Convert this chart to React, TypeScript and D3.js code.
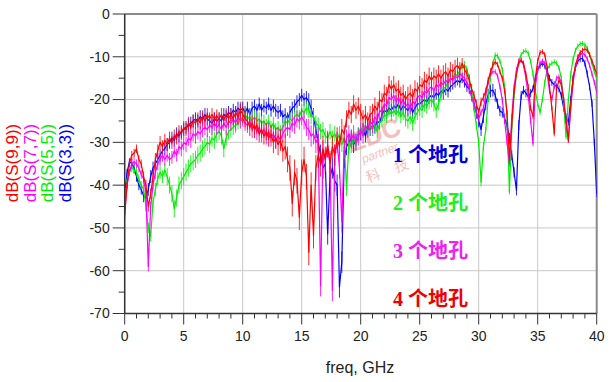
import React from "react";
import * as d3 from "d3";

// frequency sweep, 0..40 GHz in 0.2 GHz steps
const freq: number[] = d3.range(201).map((i) => +(i * 0.2).toFixed(1));

const s99: number[] = [
  -47, -40, -35, -33, -32.5,
  -31.5, -34, -35, -38, -40,
  -45, -42, -38, -34, -32,
  -30, -31, -29.5, -30.5, -29,
  -30, -28.5, -29, -27.5, -28,
  -26.5, -27, -25.5, -26.5, -25,
  -25.5, -24.5, -25.5, -24, -25,
  -23.5, -24.5, -23.5, -24.5, -23.8,
  -24.5, -23.5, -24.8, -23.5, -24.5,
  -23.5, -24.5, -23, -24, -22.5,
  -23.5, -24.5, -25, -26.5, -25.5,
  -27, -26, -28, -27, -28.5,
  -27.5, -29, -28, -30, -29,
  -30.5, -29.5, -32, -31, -34,
  -36, -44.3, -37, -39, -47.5,
  -37, -34, -38, -55.7, -40,
  -51.8, -36, -33, -35, -31.5,
  -34, -30.5, -35, -31, -33,
  -29, -31, -27, -28, -24.5,
  -22.5, -23.5, -21, -22.5, -21.5,
  -23, -24.5, -23.5, -25, -23.5,
  -23, -21.5, -22.5, -20, -20.5,
  -18.5, -19, -16.5, -17.5, -16.5,
  -18, -17.5, -19, -18.5, -20,
  -19, -18.5, -19.5, -17.5, -18,
  -16.5, -17, -15.5, -16, -14.5,
  -15.5, -14.5, -15, -14, -15,
  -14, -13.5, -14.5, -13, -13.5,
  -12.5, -12, -13, -11.5, -13,
  -14, -15.5, -17.5, -19, -21,
  -23, -20.5, -19.5, -18, -15.5,
  -13.5, -12, -11.2, -11.8, -13.5,
  -15, -18, -23, -33.7, -26,
  -18, -14, -11.5, -10.8, -11.5,
  -14, -17, -22, -24, -15,
  -11, -9, -8.8, -9.5, -12.5,
  -17, -22, -28, -17.5, -15.5,
  -16.5, -20, -25, -29.5, -21,
  -15, -12, -10, -9, -8.5,
  -8.2, -8.5, -9.5, -11, -12.5,
  -14,
];

const s77: number[] = [
  -46, -40, -37, -35, -34.5,
  -35, -36, -37.5, -38.5, -42,
  -59, -45, -40, -37, -35,
  -34, -33, -34, -33, -34,
  -33.5, -32, -33, -31, -31.5,
  -30, -30.5, -29, -29.5, -28,
  -28.5, -27.5, -28, -27, -26.5,
  -27, -26, -26.5, -25.5, -26.5,
  -26, -27, -25.5, -26.5, -25,
  -25.5, -24.5, -25.5, -24, -25,
  -24.5, -25.5, -26, -25, -27,
  -26, -27.5, -26.5, -28, -27,
  -28.5, -27.5, -29, -28, -29.5,
  -28.5, -29.5, -28, -27, -26.5,
  -27, -25.5, -26, -24.5, -25,
  -24, -25, -26.5, -27, -28.5,
  -28, -30, -29, -63.5, -32,
  -34, -31, -35, -64.6, -33,
  -30, -36, -48.6, -31, -29,
  -28, -29.5, -28, -30, -29,
  -27, -28.5, -26, -27, -25,
  -26, -24, -25, -22.5, -23,
  -21, -21.5, -19.5, -20, -19,
  -20.5, -19.5, -21, -20, -21.5,
  -21, -22, -20.5, -21, -19.5,
  -19, -19.5, -18, -18.5, -17.5,
  -17, -18, -16.5, -17, -16,
  -16.5, -15.5, -16, -15, -15.5,
  -14.5, -15, -14, -14.5, -15,
  -16, -17.5, -19.5, -21, -23,
  -24.5, -23, -22, -19, -16,
  -14, -13.5, -13.5, -14.5, -17,
  -20, -25, -30, -35, -24,
  -17, -13, -11, -10.8, -12,
  -15, -19, -25, -30.3, -17,
  -13, -11.5, -11, -11.5, -14,
  -18, -20, -17, -15, -14.7,
  -16, -20, -25, -29.5, -22,
  -16, -12.5, -10.5, -9.5, -9.2,
  -9.5, -10.5, -12, -14, -16,
  -18.2,
];

const s55: number[] = [
  -43, -39, -37, -36, -36.5,
  -37, -38.5, -40, -41, -45,
  -50, -52, -44, -41, -38.5,
  -37, -38, -36.5, -38, -40,
  -42, -45.5, -43, -40, -39,
  -38, -37, -36, -35, -34.5,
  -34, -33, -32.5, -31.5, -31,
  -30, -30.5, -29, -29.5, -28,
  -27.5, -28.5, -31.5, -29, -27.5,
  -27, -26.5, -26, -25.5, -25,
  -24, -23.5, -24.5, -24, -25,
  -24, -25, -24.5, -25.5, -25,
  -26, -25, -26.5, -25.5, -27,
  -26.5, -27.5, -26.5, -25, -25.5,
  -24.5, -25, -24, -23.5, -24,
  -22.5, -23, -22, -22.5, -24,
  -24, -25.5, -26, -27.5, -27,
  -28.5, -29, -27.5, -29, -28,
  -29.5, -28, -30.5, -29, -41,
  -30, -31, -29, -30.5, -28,
  -26.5, -27.5, -26, -27.5, -26,
  -27, -26, -27.5, -25.5, -25,
  -23.5, -24, -22.5, -23.5, -22.5,
  -23.5, -22.5, -24, -23, -24.5,
  -25, -24, -25.5, -24, -23,
  -22, -22.5, -21, -21.5, -20.5,
  -20, -21, -22.5, -21, -19,
  -17.5, -17, -16, -15.5, -15,
  -14, -14.5, -13, -12.5, -12,
  -13, -15, -18, -22, -26,
  -30, -39.3, -31, -27, -20,
  -15, -11.5, -9.6, -9.8, -11,
  -13, -17, -24, -41.6, -27,
  -19, -14, -11, -9.5, -8.8,
  -8.6, -9.2, -11, -14, -18,
  -21, -23, -20, -16, -13,
  -12, -11.5, -11.2, -11.5, -12.5,
  -15, -21, -28.7, -20, -14,
  -10.5, -8.5, -7.5, -7, -6.9,
  -7.2, -8, -9.5, -11.5, -13.5,
  -15,
];

const s33: number[] = [
  -42, -37, -34.5, -35, -36,
  -38, -40, -41, -42.5, -43,
  -41, -38, -36, -35, -34,
  -33, -32, -31.5, -30.5, -30,
  -29, -29.5, -28, -28.5, -27.5,
  -27, -26.5, -26, -25.5, -25,
  -24.5, -25, -24, -24.5, -23.5,
  -24.5, -25, -25.5, -24.5, -25,
  -24.5, -25, -23.5, -24, -23,
  -23.5, -22.5, -23, -22, -22.5,
  -22, -23, -22, -23.5, -22,
  -21.5, -22.5, -21, -22.5, -21.5,
  -22, -21, -22.5, -21.5, -22.5,
  -23, -22.5, -24, -23.5, -24.5,
  -23, -22, -21.5, -20.5, -20,
  -19, -20, -19.5, -20.5, -22,
  -24, -27, -30, -33, -36,
  -35, -51.4, -38, -36, -39,
  -40, -63.8, -58, -34, -31,
  -30, -29, -30.5, -29.5, -28,
  -28, -27, -28.5, -26.5, -27,
  -26, -26.5, -25, -25.5, -23.5,
  -22.5, -23, -22, -22.5, -21.5,
  -22, -21, -22.5, -21.5, -22,
  -22.5, -21.5, -23, -22, -21,
  -21, -20.5, -20, -20.5, -19.5,
  -19, -19.5, -18.5, -19, -18,
  -18.5, -17.5, -18, -17, -16.5,
  -16, -15.5, -16, -15, -16,
  -17, -17.5, -19, -21, -23,
  -25, -27, -24, -21, -19,
  -18, -17.8, -19, -21, -22.7,
  -23, -24.5, -26, -29, -33,
  -37, -41.2, -26, -19, -17.8,
  -18.5, -19.3, -18.5, -17.5, -15,
  -13, -12, -11.5, -12, -13.5,
  -15, -16, -16.5, -17, -17.5,
  -19, -22, -24, -25.3, -20,
  -15, -12.5, -11, -10.5, -10.4,
  -11.5, -14, -17, -20.9, -30,
  -42,
];

// half-width of the noise band (dB), read per GHz from the picture
const n99: number[] = [0.8, 1, 1.2, 1.5, 1.5, 1.5, 1.5, 1.5, 1.5, 1.5, 2, 2, 2, 2.5, 3, 3, 3, 3, 2.5, 2, 2, 2, 2, 2, 2, 2, 2, 2, 1.8, 1.2, 1, 0.8, 0.6, 0.6, 0.6, 0.6, 0.6, 0.6, 0.6, 0.6, 0.6];
const n77: number[] = [0.8, 1, 1.2, 1.5, 1.5, 1.8, 1.8, 1.8, 1.8, 1.8, 1.8, 2, 2, 2, 2, 2, 2.5, 2.5, 2.5, 2, 1.8, 1.8, 1.5, 1.5, 1.5, 1.5, 1.5, 1.5, 1.2, 1, 0.8, 0.6, 0.6, 0.6, 0.6, 0.6, 0.6, 0.6, 0.6, 0.6, 0.6];
const n55: number[] = [0.8, 1, 1.2, 1.5, 2, 2, 2, 2, 2, 1.8, 1.5, 1.5, 1.5, 1.5, 1.5, 1.5, 1.8, 1.8, 1.8, 1.5, 1.5, 1.5, 1.5, 1.5, 1.8, 1.8, 1.8, 1.5, 1.2, 1, 1, 0.6, 0.6, 0.6, 0.6, 0.6, 0.6, 0.6, 0.6, 0.6, 0.6];
const n33: number[] = [0.8, 1.2, 1.5, 1.5, 1.5, 1.5, 1.5, 1.5, 1.5, 1.5, 1.5, 1.5, 1.5, 1.5, 1.5, 1.5, 2, 2.5, 2.5, 2, 1.5, 1.5, 1.5, 1.5, 1.5, 1.5, 1.5, 1.5, 1.2, 1.2, 1.5, 1.5, 1.2, 1.2, 1, 0.8, 0.8, 0.8, 0.8, 0.8, 0.8];

const seriesNames = ["dB(S(9,9))", "dB(S(7,7))", "dB(S(5,5))", "dB(S(3,3))"];
const seriesColors = ["#ff0000", "#ff00ff", "#00ee00", "#0000ff"];
const seriesData = [s99, s77, s55, s33];
const seriesNoise = [n99, n77, n55, n33];
const drawOrder = [3, 2, 1, 0];

const legendTexts = ["1 个地孔", "2 个地孔", "3 个地孔", "4 个地孔"];
const legendColors = ["#0000dd", "#22ee22", "#ee22ee", "#ee0000"];

const xTicks = [0, 5, 10, 15, 20, 25, 30, 35, 40];
const yTicks = [0, -10, -20, -30, -40, -50, -60, -70];

const W = 612;
const H = 382;
const L = 124.7;
const R = 596.7;
const T = 14;
const B = 313.5;

export default function App() {
  const x = d3.scaleLinear().domain([0, 40]).range([L, R]);
  const y = d3.scaleLinear().domain([-70, 0]).range([B, T]);
  const minorX = d3.range(0, 41, 1);
  const minorY = d3.range(-70, 1, 5);
  const line = d3
    .line<number>()
    .x((_, i) => x(freq[i]))
    .y((d) => y(d));
  const hairs = (vals: number[], noise: number[]) =>
    vals
      .map((v, i) => {
        const a = noise[Math.min(40, Math.round(freq[i]))];
        const xi = x(freq[i]).toFixed(2);
        return `M${xi},${y(v + a).toFixed(2)}V${y(v - a).toFixed(2)}`;
      })
      .join("");
  const font = "'Liberation Sans', Arial, sans-serif";
  return (
    <svg
      width={W}
      height={H}
      style={{ position: "absolute", left: 0, top: 0, background: "#fff" }}
    >
      <defs>
        <clipPath id="clip">
          <rect x={L} y={T - 2} width={R - L} height={B - T + 2} />
        </clipPath>
      </defs>
      {/* grid */}
      {xTicks.map((t) => (
        <line key={"gx" + t} x1={x(t)} x2={x(t)} y1={T} y2={B} stroke="#c8c8c8" strokeWidth={1} />
      ))}
      {yTicks.map((t) => (
        <line key={"gy" + t} x1={L} x2={R} y1={y(t)} y2={y(t)} stroke="#c8c8c8" strokeWidth={1} />
      ))}
      {/* frame top/right */}
      <line x1={L} x2={R} y1={T} y2={T} stroke="#8a8a8a" strokeWidth={2} />
      <line x1={R} x2={R} y1={T} y2={B} stroke="#8a8a8a" strokeWidth={2} />

      {/* watermark */}
      <g transform="translate(382,150) rotate(-20)" fill="#f08a8a" opacity={0.55} fontFamily={font}>
        <text x={-30} y={-8} fontSize={26} fontWeight="bold">EDC</text>
        <text x={-22} y={6} fontSize={12} fontStyle="italic">partner</text>
        <text x={-24} y={26} fontSize={14} fontFamily="'Noto Sans CJK SC'">科</text>
        <text x={6} y={26} fontSize={14} fontFamily="'Noto Sans CJK SC'">技</text>
      </g>

      {/* series */}
      <g clipPath="url(#clip)">
        {drawOrder.map((k) => (
          <g key={seriesNames[k]}>
            <path
              d={hairs(seriesData[k], seriesNoise[k])}
              fill="none"
              stroke={seriesColors[k]}
              strokeWidth={1}
              opacity={0.85}
            />
            <path
              d={line(seriesData[k]) || ""}
              fill="none"
              stroke={seriesColors[k]}
              strokeWidth={1.2}
              strokeLinejoin="round"
            />
          </g>
        ))}
      </g>

      {/* axes */}
      <line x1={L} x2={L} y1={T} y2={B} stroke="#333" strokeWidth={1.5} />
      <line x1={L} x2={R} y1={B} y2={B} stroke="#333" strokeWidth={1.5} />
      {minorY.map((t) => (
        <line
          key={"ty" + t}
          x1={L - (t % 10 === 0 ? 12 : 6)}
          x2={L}
          y1={y(t)}
          y2={y(t)}
          stroke="#333"
          strokeWidth={1}
        />
      ))}
      {minorX.map((t) => (
        <line
          key={"tx" + t}
          x1={x(t)}
          x2={x(t)}
          y1={B}
          y2={B + (t % 5 === 0 ? 11 : 5)}
          stroke="#333"
          strokeWidth={1}
        />
      ))}
      {yTicks.map((t) => (
        <text
          key={"ly" + t}
          x={L - 15}
          y={y(t)}
          dy="0.35em"
          textAnchor="end"
          fontSize={14}
          fontFamily={font}
          fill="#222"
        >
          {t}
        </text>
      ))}
      {xTicks.map((t) => (
        <text
          key={"lx" + t}
          x={x(t)}
          y={341}
          textAnchor="middle"
          fontSize={14}
          fontFamily={font}
          fill="#222"
        >
          {t}
        </text>
      ))}
      <text x={360} y={373} textAnchor="middle" fontSize={16} fontFamily={font} fill="#222">
        freq, GHz
      </text>

      {/* y-axis labels */}
      {seriesNames.map((n, i) => (
        <text
          key={n}
          transform={`translate(${18 + i * 17.5},163) rotate(-90)`}
          textAnchor="middle"
          fontSize={17}
          fontFamily={font}
          fill={seriesColors[i]}
        >
          {n}
        </text>
      ))}

      {/* in-plot legend */}
      {legendTexts.map((t, i) => (
        <text
          key={t}
          x={393}
          y={162 + i * 48}
          fontSize={20}
          fontWeight="bold"
          fontFamily="'Liberation Serif', 'Noto Sans CJK SC', serif"
          fill={legendColors[i]}
        >
          {t}
        </text>
      ))}
    </svg>
  );
}
